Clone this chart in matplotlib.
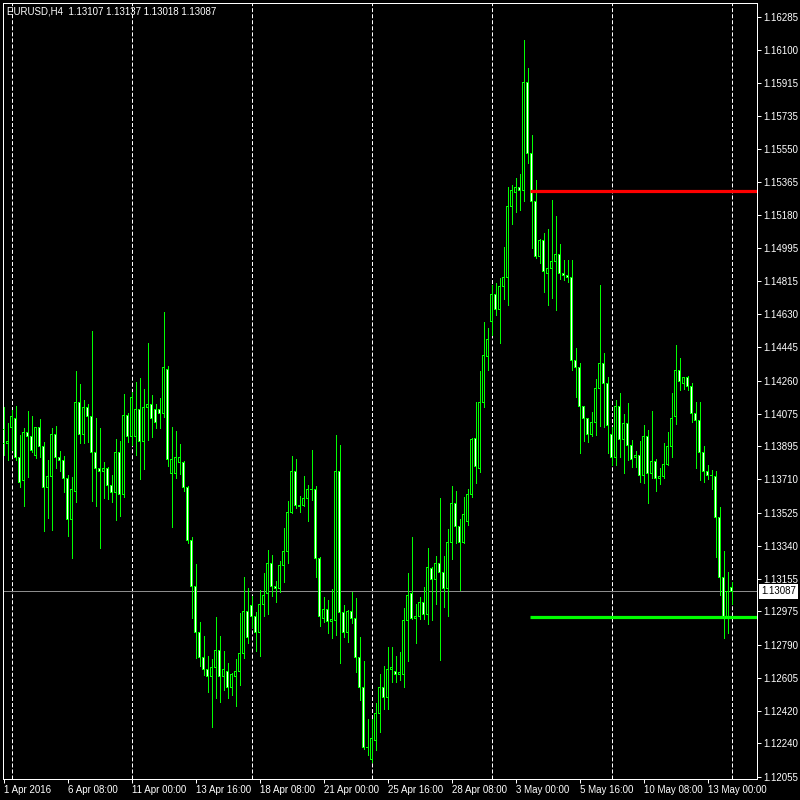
"""
EURUSD H4 candlestick chart in MetaTrader green-on-black style.
"""
import matplotlib
matplotlib.use("Agg")
import matplotlib.pyplot as plt
import numpy as np

plt.rcParams["font.family"] = ["Liberation Sans", "DejaVu Sans"]
plt.rcParams["lines.scale_dashes"] = False

symbol_text = "EURUSD,H4  1.13107 1.13137 1.13018 1.13087"

# OHLC per 4h bar, first bar = 1 Apr 2016 16:00
opens = [
    1.13985, 1.13912, 1.14001, 1.14051, 1.13829, 1.13706, 1.13973, 1.13946, 1.13840, 1.13996,
    1.13890, 1.13662, 1.13723, 1.13957, 1.13829, 1.13812, 1.13712, 1.13489, 1.13645, 1.14135,
    1.13957, 1.14107, 1.14057, 1.13857, 1.13768, 1.13751, 1.13768, 1.13678, 1.13634, 1.13862,
    1.13628, 1.14063, 1.13946, 1.13946, 1.14096, 1.13918, 1.14107, 1.14129, 1.14096, 1.14096,
    1.14079, 1.14324, 1.13745, 1.13745, 1.13801, 1.13801, 1.13667, 1.13367, 1.13116, 1.12860,
    1.12721, 1.12654, 1.12610, 1.12665, 1.12760, 1.12610, 1.12643, 1.12549, 1.12615, 1.12643,
    1.12743, 1.12972, 1.13005, 1.12944, 1.12860, 1.13016, 1.13072, 1.13239, 1.13111, 1.13100,
    1.13233, 1.13311, 1.13528, 1.13751, 1.13562, 1.13567, 1.13601, 1.13651, 1.13656, 1.13267,
    1.12933, 1.12983, 1.12916, 1.12922, 1.13756, 1.12966, 1.12855, 1.12972, 1.12938, 1.12721,
    1.12554, 1.12220, 1.12148, 1.12259, 1.12409, 1.12554, 1.12493, 1.12649, 1.12643, 1.12621,
    1.12621, 1.12922, 1.13072, 1.12938, 1.12944, 1.13027, 1.12955, 1.13211, 1.13150, 1.13239,
    1.13189, 1.13100, 1.13356, 1.13573, 1.13450, 1.13361, 1.13478, 1.13623, 1.13935, 1.13773,
    1.14140, 1.14391, 1.14591, 1.14736, 1.14653, 1.14781, 1.14831, 1.15226, 1.15304, 1.15332,
    1.15320, 1.15916, 1.15526, 1.15254, 1.14948, 1.15042, 1.14858, 1.14881, 1.14920, 1.14964,
    1.14853, 1.14842, 1.14836, 1.14369, 1.14335, 1.14113, 1.14046, 1.13957, 1.14024, 1.14218,
    1.14352, 1.14241, 1.13957, 1.13829, 1.14113, 1.13929, 1.14018, 1.13901, 1.13829, 1.13840,
    1.13729, 1.13946, 1.13740, 1.13807, 1.13717, 1.13723, 1.13795, 1.13890, 1.14057, 1.14313,
    1.14246, 1.14274, 1.14224, 1.14074, 1.14035, 1.13857, 1.13756, 1.13729, 1.13723, 1.13500,
    1.13166, 1.12938, 1.13107,
]
highs = [
    1.14113, 1.14024, 1.14096, 1.14118, 1.13957, 1.13996, 1.14090, 1.14063, 1.14001, 1.14046,
    1.13918, 1.13818, 1.13996, 1.14007, 1.13868, 1.13840, 1.13734, 1.13723, 1.14313, 1.14241,
    1.14152, 1.14129, 1.14536, 1.14051, 1.13996, 1.13807, 1.13779, 1.13734, 1.13935, 1.13923,
    1.14185, 1.14079, 1.14196, 1.14252, 1.14274, 1.14213, 1.14469, 1.14179, 1.14129, 1.14163,
    1.14641, 1.14341, 1.14001, 1.13979, 1.13907, 1.13812, 1.13673, 1.13389, 1.13239, 1.12916,
    1.12838, 1.12727, 1.12710, 1.12944, 1.12838, 1.12755, 1.12688, 1.12632, 1.12710, 1.12966,
    1.13166, 1.13105, 1.13061, 1.12972, 1.13094, 1.13189, 1.13317, 1.13289, 1.13144, 1.13255,
    1.13439, 1.13589, 1.13840, 1.13823, 1.13617, 1.13729, 1.13678, 1.13873, 1.13673, 1.13278,
    1.13055, 1.13038, 1.13100, 1.13957, 1.13901, 1.13011, 1.12983, 1.13083, 1.13050, 1.12832,
    1.12699, 1.12376, 1.12376, 1.12465, 1.12627, 1.12671, 1.12777, 1.12777, 1.12727, 1.12749,
    1.12994, 1.13189, 1.13389, 1.13016, 1.13055, 1.13111, 1.13328, 1.13222, 1.13283, 1.13606,
    1.13283, 1.13434, 1.13673, 1.13645, 1.13489, 1.13612, 1.13656, 1.13940, 1.14140, 1.14313,
    1.14586, 1.14552, 1.14792, 1.14803, 1.14831, 1.15003, 1.15337, 1.15348, 1.15387, 1.15410,
    1.16155, 1.16000, 1.15627, 1.15376, 1.15048, 1.15081, 1.15103, 1.15265, 1.15176, 1.15020,
    1.14931, 1.14931, 1.14931, 1.14441, 1.14358, 1.14118, 1.14051, 1.14085, 1.14268, 1.14792,
    1.14413, 1.14280, 1.14001, 1.14152, 1.14191, 1.14074, 1.14135, 1.13929, 1.13868, 1.13923,
    1.14012, 1.13985, 1.14090, 1.13823, 1.13773, 1.13912, 1.13973, 1.14191, 1.14458, 1.14385,
    1.14280, 1.14285, 1.14246, 1.14140, 1.14140, 1.13896, 1.13790, 1.13762, 1.13756, 1.13556,
    1.13311, 1.13194, 1.13137,
]
lows = [
    1.13845, 1.13818, 1.13873, 1.13818, 1.13667, 1.13562, 1.13723, 1.13862, 1.13829, 1.13834,
    1.13422, 1.13495, 1.13428, 1.13773, 1.13756, 1.13640, 1.13395, 1.13272, 1.13584, 1.13912,
    1.13912, 1.13918, 1.13589, 1.13562, 1.13328, 1.13606, 1.13601, 1.13584, 1.13484, 1.13506,
    1.13612, 1.13918, 1.13901, 1.13845, 1.13712, 1.13768, 1.13929, 1.13946, 1.13996, 1.13996,
    1.14057, 1.13784, 1.13445, 1.13717, 1.13740, 1.13645, 1.13356, 1.12938, 1.12716, 1.12671,
    1.12621, 1.12526, 1.12332, 1.12493, 1.12471, 1.12537, 1.12493, 1.12510, 1.12448, 1.12565,
    1.12716, 1.12799, 1.12888, 1.12755, 1.12727, 1.12949, 1.12960, 1.13061, 1.13027, 1.13083,
    1.13139, 1.13244, 1.13523, 1.13550, 1.13528, 1.13562, 1.13478, 1.13595, 1.13166, 1.12894,
    1.12916, 1.12855, 1.12827, 1.12844, 1.12688, 1.12832, 1.12805, 1.12910, 1.12638, 1.12482,
    1.12209, 1.12176, 1.12137, 1.12204, 1.12304, 1.12432, 1.12432, 1.12582, 1.12582, 1.12593,
    1.12554, 1.12699, 1.12933, 1.12799, 1.12933, 1.12933, 1.12905, 1.12927, 1.13016, 1.12704,
    1.12999, 1.12949, 1.13267, 1.13356, 1.13094, 1.13356, 1.13456, 1.13612, 1.13690, 1.13751,
    1.14113, 1.14319, 1.14513, 1.14625, 1.14469, 1.14714, 1.14680, 1.15131, 1.15198, 1.15209,
    1.15259, 1.15471, 1.14998, 1.14942, 1.14914, 1.14753, 1.14680, 1.14719, 1.14653, 1.14825,
    1.14820, 1.14808, 1.14319, 1.14168, 1.13857, 1.13923, 1.13918, 1.13951, 1.13957, 1.14007,
    1.14001, 1.13857, 1.13790, 1.13790, 1.13834, 1.13745, 1.13818, 1.13779, 1.13779, 1.13695,
    1.13690, 1.13578, 1.13717, 1.13645, 1.13684, 1.13717, 1.13790, 1.13834, 1.14018, 1.14207,
    1.14213, 1.14207, 1.14029, 1.13773, 1.13706, 1.13695, 1.13712, 1.13656, 1.13278, 1.13066,
    1.12827, 1.12855, 1.13018,
]
closes = [
    1.13912, 1.13918, 1.14057, 1.13829, 1.13695, 1.13973, 1.13946, 1.13873, 1.13996, 1.13890,
    1.13662, 1.13723, 1.13957, 1.13829, 1.13812, 1.13712, 1.13489, 1.13651, 1.14135, 1.13957,
    1.14107, 1.14057, 1.13857, 1.13768, 1.13751, 1.13768, 1.13678, 1.13634, 1.13862, 1.13628,
    1.14063, 1.13946, 1.14163, 1.14096, 1.13918, 1.14107, 1.14129, 1.14051, 1.14024, 1.14079,
    1.14330, 1.13818, 1.13818, 1.13834, 1.13829, 1.13667, 1.13367, 1.13116, 1.12860, 1.12721,
    1.12654, 1.12610, 1.12665, 1.12760, 1.12610, 1.12649, 1.12549, 1.12621, 1.12643, 1.12743,
    1.12972, 1.12827, 1.12944, 1.12860, 1.13016, 1.13061, 1.13244, 1.13111, 1.13100, 1.13233,
    1.13311, 1.13528, 1.13751, 1.13562, 1.13556, 1.13606, 1.13651, 1.13656, 1.13267, 1.12944,
    1.12983, 1.12916, 1.12927, 1.13756, 1.12966, 1.12860, 1.12972, 1.12938, 1.12721, 1.12554,
    1.12220, 1.12215, 1.12270, 1.12409, 1.12554, 1.12493, 1.12649, 1.12665, 1.12621, 1.12632,
    1.12922, 1.13066, 1.12938, 1.12949, 1.13027, 1.12955, 1.13217, 1.13150, 1.13239, 1.13189,
    1.13100, 1.13356, 1.13573, 1.13450, 1.13361, 1.13512, 1.13623, 1.13929, 1.13779, 1.14140,
    1.14397, 1.14486, 1.14736, 1.14653, 1.14781, 1.14831, 1.15231, 1.15315, 1.15332, 1.15320,
    1.15916, 1.15526, 1.15254, 1.14948, 1.15042, 1.14864, 1.14886, 1.14925, 1.14964, 1.14853,
    1.14842, 1.14831, 1.14369, 1.14335, 1.14113, 1.14046, 1.13962, 1.14024, 1.14218, 1.14352,
    1.14241, 1.14007, 1.13829, 1.14113, 1.13929, 1.14018, 1.13901, 1.13818, 1.13840, 1.13729,
    1.13946, 1.13740, 1.13807, 1.13717, 1.13723, 1.13795, 1.13890, 1.14051, 1.14313, 1.14252,
    1.14274, 1.14224, 1.14074, 1.14035, 1.13857, 1.13756, 1.13729, 1.13734, 1.13500, 1.13166,
    1.12944, 1.13083, 1.13087,
]

time_label_bars = [0, 16, 32, 48, 64, 80, 96, 112, 128, 144, 160, 176]
time_labels = ["1 Apr 2016", "6 Apr 08:00", "11 Apr 00:00", "13 Apr 16:00",
               "18 Apr 08:00", "21 Apr 00:00", "25 Apr 16:00", "28 Apr 08:00",
               "3 May 00:00", "5 May 16:00", "10 May 08:00", "13 May 00:00"]
week_start_bars = [2, 32, 62, 92, 122, 152, 182]

price_labels = ["1.16285", "1.16100", "1.15915", "1.15735", "1.15550", "1.15365",
                "1.15180", "1.14995", "1.14815", "1.14630", "1.14445", "1.14260",
                "1.14075", "1.13895", "1.13710", "1.13525", "1.13340", "1.13155",
                "1.12975", "1.12790", "1.12605", "1.12420", "1.12240", "1.12055"]

last_price = 1.13087
resistance_level = 1.15315
support_level = 1.12944
level_start_bar = 131.6

CANDLE = "#00FF00"
PX = 0.72  # one pixel in points at 100 dpi

o = np.array(opens)
h = np.array(highs)
l = np.array(lows)
c = np.array(closes)
x = np.arange(len(o))

fig = plt.figure(figsize=(8, 8), dpi=100, facecolor="black")
ax = fig.add_axes([2.5 / 800, 21 / 800, 754.5 / 800, 776.5 / 800], facecolor="black")
ax.set_xlim(-0.25, 188.375)
ax.set_ylim(1.12042, 1.16364)
ypx = (1.16364 - 1.12042) / 776.5  # price per screen pixel

# weekly separators
for b in week_start_bars:
    ax.axvline(b, color="white", lw=PX, linestyle=(0, (2.9, 1.45)), zorder=1)

ax.axhline(last_price, color="#8c8c8c", lw=PX, zorder=1.5)

# candles: wick, green 3px body, then 1px core (bull = black, bear = white)
ax.vlines(x, l, h, color=CANDLE, lw=PX, zorder=2, antialiased=False)
lo_body = np.minimum(o, c)
span = np.abs(c - o)
ax.bar(x, span + ypx, bottom=lo_body - ypx / 2, width=0.75, color=CANDLE,
       linewidth=0, zorder=3, antialiased=False)
core = span - ypx
fills = np.where(c >= o, "black", "white")
ax.bar(x, np.where(core > 0, core, 0), bottom=lo_body + ypx / 2, width=0.25,
       color=fills, linewidth=0, zorder=4, antialiased=False)

xmax = ax.get_xlim()[1]
ax.hlines(resistance_level, level_start_bar, xmax, color="#FF0000", lw=2.3, zorder=5)
ax.hlines(support_level, level_start_bar, xmax, color="#00FF00", lw=2.3, zorder=5)

for sp in ax.spines.values():
    sp.set_color("white")
    sp.set_linewidth(PX)

ax.yaxis.tick_right()
ax.set_yticks([float(s) for s in price_labels])
ax.set_yticklabels(price_labels)
ax.tick_params(axis="y", colors="white", length=2.9, width=PX, pad=1.5, labelsize=7)

ax.set_xticks(time_label_bars)
ax.set_xticklabels(time_labels, ha="left")
ax.tick_params(axis="x", colors="white", length=2.9, width=PX, pad=1.5, labelsize=7)

ax.annotate(f"{last_price:.5f}", xy=(1, last_price), xycoords=ax.get_yaxis_transform(),
            xytext=(3, 0), textcoords="offset points", ha="left", va="center",
            fontsize=7, color="black", annotation_clip=False,
            bbox=dict(boxstyle="square,pad=0.25", fc="white", ec="none"))

fig.text(7 / 800, 1 - 11 / 800, symbol_text, color="white", fontsize=7,
         ha="left", va="center")

fig.savefig("out.png", dpi=100, facecolor="black")
